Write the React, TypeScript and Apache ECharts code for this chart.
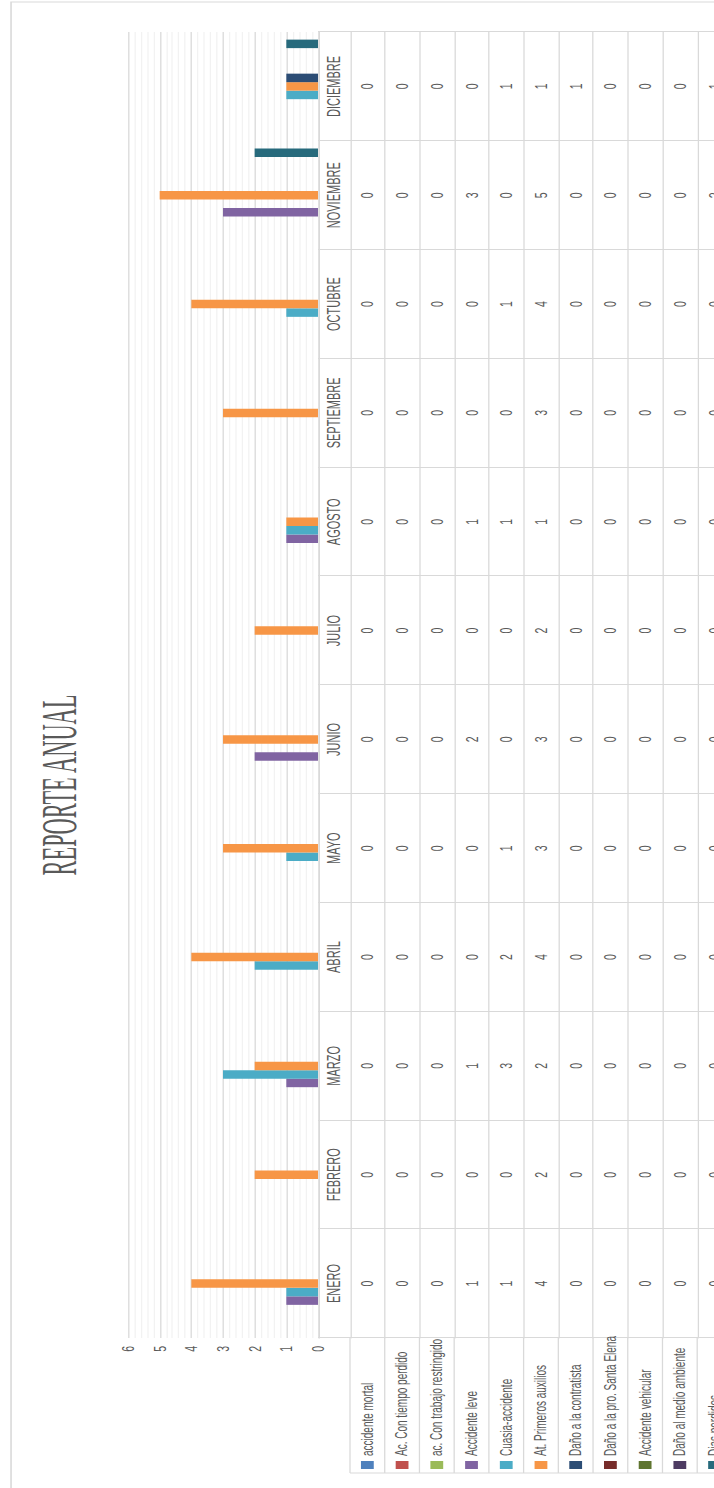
import React, { useEffect, useRef } from 'react';
import * as echarts from 'echarts';

// ---- data ----
const months = ['ENERO', 'FEBRERO', 'MARZO', 'ABRIL', 'MAYO', 'JUNIO', 'JULIO', 'AGOSTO', 'SEPTIEMBRE', 'OCTUBRE', 'NOVIEMBRE', 'DICIEMBRE'];
const seriesNames = [
  'accidente mortal',
  'Ac. Con tiempo perdido',
  'ac. Con trabajo restringido',
  'Accidente leve',
  'Cuasia-accidente',
  'At. Primeros auxilios',
  'Daño a la contratista',
  'Daño a la pro. Santa Elena',
  'Accidente vehicular',
  'Daño al medio ambiente',
  'Dias perdidos',
];
const seriesColors = ['#4F81BD', '#C0504D', '#9BBB59', '#8064A2', '#4BACC6', '#F79646', '#2C4D75', '#772C2A', '#5F7530', '#4D3B62', '#276A7C'];

const accidenteMortal = [0, 0, 0, 0, 0, 0, 0, 0, 0, 0, 0, 0];
const tiempoPerdido = [0, 0, 0, 0, 0, 0, 0, 0, 0, 0, 0, 0];
const trabajoRestringido = [0, 0, 0, 0, 0, 0, 0, 0, 0, 0, 0, 0];
const accidenteLeve = [1, 0, 1, 0, 0, 2, 0, 1, 0, 0, 3, 0];
const cuasiaAccidente = [1, 0, 3, 2, 1, 0, 0, 1, 0, 1, 0, 1];
const primerosAuxilios = [4, 2, 2, 4, 3, 3, 2, 1, 3, 4, 5, 1];
const danoContratista = [0, 0, 0, 0, 0, 0, 0, 0, 0, 0, 0, 1];
const danoSantaElena = [0, 0, 0, 0, 0, 0, 0, 0, 0, 0, 0, 0];
const accidenteVehicular = [0, 0, 0, 0, 0, 0, 0, 0, 0, 0, 0, 0];
const danoMedioAmbiente = [0, 0, 0, 0, 0, 0, 0, 0, 0, 0, 0, 0];
const diasPerdidos = [0, 0, 0, 0, 0, 0, 0, 0, 0, 0, 2, 1];

const seriesValues = [
  accidenteMortal, tiempoPerdido, trabajoRestringido, accidenteLeve, cuasiaAccidente,
  primerosAuxilios, danoContratista, danoSantaElena, accidenteVehicular, danoMedioAmbiente, diasPerdidos,
];

const valueTicks = { min: 0, max: 6, interval: 1 };
const titleText = 'REPORTE ANUAL';

// ---- layout (original, unrotated landscape chart) ----
const S = 1.6;
const W = 1488;
const H = 480;
const GRID_LEFT = 150;
const GRID_RIGHT = 32;
const GRID_TOP = 80;
const GRID_H = 118.75;
const LABEL_ROW = 20;
const ROW_H = 21.7;
const TABLE_LEFT = 15;
const FONT = "'Liberation Sans', Arial, sans-serif";
const TXT = '#595959';
const LINE = '#d9d9d9';

export default function App() {
  const ref = useRef<HTMLDivElement>(null);

  useEffect(() => {
    if (!ref.current) return;
    const chart = echarts.init(ref.current, null, { renderer: 'svg' });
    const gridBottomY = GRID_TOP + GRID_H;
    const tableTop = gridBottomY + LABEL_ROW;
    const tableBottom = tableTop + ROW_H * seriesNames.length;

    const rowAxes = seriesValues.map((vals, r) => ({
      type: 'category',
      data: months,
      gridIndex: 0,
      position: 'bottom',
      offset: LABEL_ROW + ROW_H * r,
      axisLine: { show: true, lineStyle: { color: LINE, width: 0.8 } },
      axisTick: { show: false },
      axisLabel: {
        interval: 0,
        margin: ROW_H / 2,
        verticalAlign: 'middle',
        fontSize: 10.5,
        color: TXT,
        formatter: (_v: string, i: number) => String(vals[i]),
      },
    }));

    const legendLines: any[] = [];
    for (let k = 0; k <= seriesNames.length; k++) {
      const y = tableTop + ROW_H * k;
      legendLines.push({
        type: 'line',
        silent: true,
        shape: { x1: TABLE_LEFT, y1: y, x2: GRID_LEFT, y2: y },
        style: { stroke: LINE, lineWidth: 0.8 },
      });
    }
    legendLines.push({
      type: 'line',
      silent: true,
      shape: { x1: TABLE_LEFT, y1: tableTop, x2: TABLE_LEFT, y2: tableBottom },
      style: { stroke: LINE, lineWidth: 1 },
    });

    chart.setOption({
      animation: false,
      backgroundColor: '#ffffff',
      textStyle: { fontFamily: FONT },
      grid: { left: GRID_LEFT, right: GRID_RIGHT, top: GRID_TOP, height: GRID_H, containLabel: false },
      legend: {
        orient: 'vertical',
        left: TABLE_LEFT + 4,
        top: tableTop + ROW_H / 2 - 6,
        padding: 0,
        itemWidth: 8,
        itemHeight: 8,
        itemGap: ROW_H - 12,
        icon: 'rect',
        selectedMode: false,
        textStyle: { fontSize: 10, color: TXT, lineHeight: 12, fontFamily: FONT },
        data: seriesNames,
      },
      xAxis: [
        {
          type: 'category',
          data: months,
          gridIndex: 0,
          position: 'bottom',
          axisLine: { show: true, lineStyle: { color: LINE } },
          axisTick: { show: true, length: LABEL_ROW + ROW_H * seriesNames.length, lineStyle: { color: LINE } },
          axisLabel: { interval: 0, margin: LABEL_ROW / 2, verticalAlign: 'middle', fontSize: 11, color: TXT },
        },
        ...rowAxes,
      ],
      yAxis: {
        type: 'value',
        min: valueTicks.min,
        max: valueTicks.max,
        interval: valueTicks.interval,
        axisLine: { show: false },
        axisTick: { show: false },
        splitLine: { show: true, lineStyle: { color: LINE, width: 0.8 } },
        minorTick: { show: false, splitNumber: 5 },
        minorSplitLine: { show: true, lineStyle: { color: '#f2f2f2', width: 0.8 } },
        axisLabel: { margin: 8, fontSize: 10.5, color: TXT },
      },
      series: seriesNames.map((name, i) => ({
        type: 'bar',
        name,
        data: seriesValues[i],
        itemStyle: { color: seriesColors[i] },
        barGap: '0%',
        barCategoryGap: '14%',
      })),
      graphic: [
        {
          type: 'rect',
          silent: true,
          z: -10,
          shape: { x: -10, y: 6.9, width: W - 2 + 10, height: 700 },
          style: { fill: 'none', stroke: LINE, lineWidth: 1 },
        },
        {
          type: 'text',
          silent: true,
          x: 703,
          y: 37,
          scaleX: 0.7,
          style: {
            text: titleText,
            fontSize: 32,
            fontFamily: "'Liberation Serif', 'DejaVu Serif', serif",
            fill: TXT,
            align: 'center',
            verticalAlign: 'middle',
          },
        },
        ...legendLines,
      ],
    });
    return () => chart.dispose();
  }, []);

  return (
    <div style={{ position: 'fixed', left: 0, top: 0, width: 714, height: 1488, overflow: 'hidden', background: '#fff' }}>
      <div
        style={{
          position: 'absolute',
          left: 0,
          top: 0,
          width: W,
          height: H,
          transformOrigin: '0 0',
          transform: `translate(0px, ${W}px) rotate(-90deg) scale(1, ${S})`,
        }}
      >
        <div ref={ref} style={{ width: W, height: H }} />
      </div>
    </div>
  );
}
